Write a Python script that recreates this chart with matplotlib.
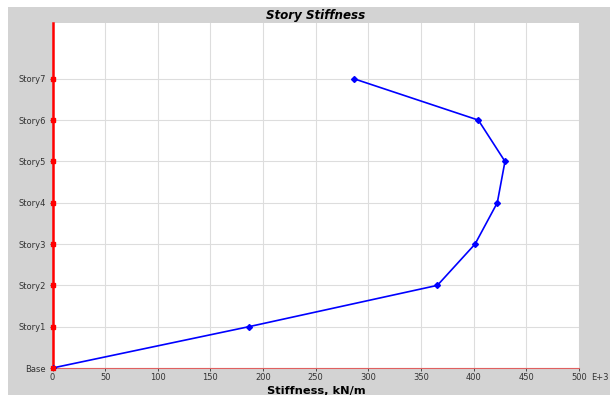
import matplotlib.pyplot as plt
import numpy as np

# Data
stories = ['Base', 'Story1', 'Story2', 'Story3', 'Story4', 'Story5', 'Story6', 'Story7']
stiffness = [0, 186.5, 365.5, 401.3, 422.4, 429.7, 404.4, 286.3]  # E+3 kN/m
x_ticks = [0, 50, 100, 150, 200, 250, 300, 350, 400, 450, 500]

levels = np.arange(len(stories))

fig = plt.figure(figsize=(6.1, 3.95), dpi=100)
fig.patch.set_facecolor('white')

# gray panel behind everything
fig.patches.append(plt.Rectangle((8 / 610, 0), 1, 1 - 7 / 395, transform=fig.transFigure,
                                 facecolor='#d3d3d3', edgecolor='none', zorder=-1))

ax = fig.add_axes([52.5 / 610, 1 - 368 / 395, (579 - 52.5) / 610, (368 - 23) / 395])
ax.set_facecolor('white')

ax.plot(stiffness, levels, color='#0000ff', lw=1.2, marker='D', ms=3, zorder=3)

# red story markers on the vertical axis
ax.plot(np.zeros(len(levels)), levels, ls='none', marker='s', ms=3.5, color='red',
        zorder=4, clip_on=False)

ax.set_xlim(0, 500)
ax.set_ylim(0, 8.35)
ax.set_xticks(x_ticks)
ax.set_xticklabels([str(t) for t in x_ticks], fontsize=6, color='#333333')
ax.set_yticks(levels)
ax.set_yticklabels(stories, fontsize=6, color='#333333')
ax.tick_params(axis='both', length=2, width=0.6, color='#333333')
ax.tick_params(axis='x', pad=1.5)
ax.tick_params(axis='y', pad=3)

ax.grid(True, color='#dddddd', lw=0.8)
ax.set_axisbelow(True)

for side in ['top', 'right']:
    ax.spines[side].set_visible(False)
ax.spines['left'].set_color('red')
ax.spines['left'].set_linewidth(1.8)
ax.spines['bottom'].set_color('#e06060')
ax.spines['bottom'].set_linewidth(0.8)

fig.text(316 / 610, 1 - 390.5 / 395, 'Stiffness, kN/m', ha='center', va='center',
         fontsize=8.2, fontweight='bold')
fig.text(316 / 610, 1 - 15 / 395, 'Story Stiffness', ha='center', va='center',
         fontsize=8.6, fontweight='bold', fontstyle='italic')
fig.text(600 / 610, 1 - 377.5 / 395, 'E+3', ha='center', va='center', fontsize=6, color='#333333')

fig.savefig('out.png', dpi=100)
